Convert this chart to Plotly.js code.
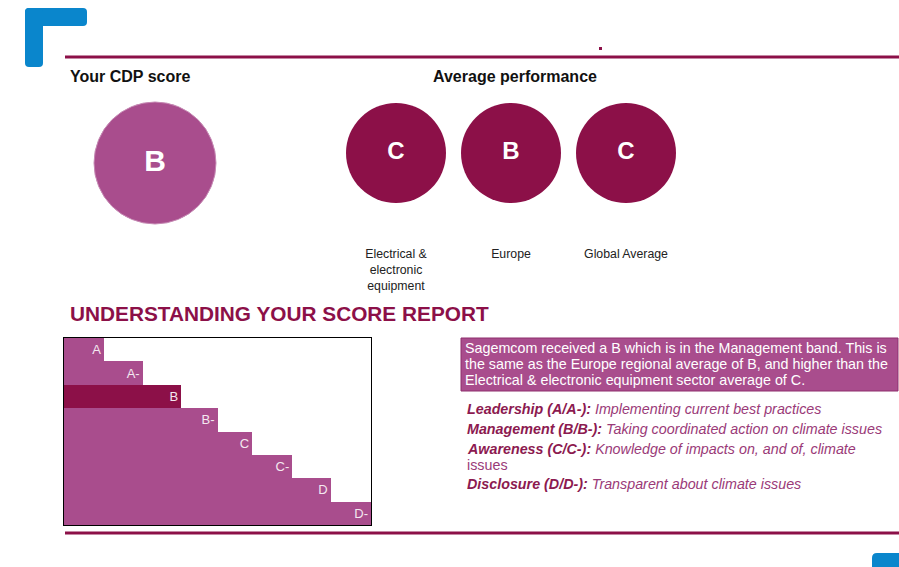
<!DOCTYPE html>
<html>
<head>
<meta charset="utf-8">
<script src="https://cdn.plot.ly/plotly-3.0.1.min.js"></script>
<style>html,body{margin:0;padding:0;background:#fff;}#chart{width:899px;height:567px;}</style>
</head>
<body>
<div id="chart"></div>
<script>
// ---- data ----
var bandLabels = ['A', 'A-', 'B', 'B-', 'C', 'C-', 'D', 'D-'];
var bandLevels = [1.05, 2.05, 3.05, 4.0, 4.9, 5.95, 6.95, 8.0];
var companyScore = 'B';
var avgCategories = ['Electrical &<br>electronic<br>equipment', 'Europe', 'Global Average'];
var avgScores = ['C', 'B', 'C'];
var summaryLines = [
  'Sagemcom received a B which is in the Management band. This is',
  'the same as the Europe regional average of B, and higher than the',
  'Electrical &amp; electronic equipment sector average of C.'
];
var bandTerms = ['Leadership (A/A-):', 'Management (B/B-):', 'Awareness (C/C-):', 'Disclosure (D/D-):'];
var bandDescs = ['Implementing current best practices', 'Taking coordinated action on climate issues', 'Knowledge of impacts on, and of, climate', 'Transparent about climate issues'];

// ---- helpers ----
var W = 899, H = 567;
function X(px) { return px / W; }
function Y(py) { return 1 - py / H; }
var LIGHT = '#A94D8D', DARK = '#8C1048', BLUE = '#0A86CC';
var FONT = 'Liberation Sans, Arial, sans-serif';

var barColors = bandLabels.map(function (b) { return b === companyScore ? DARK : LIGHT; });

var traces = [
  {
    type: 'bar', orientation: 'h',
    x: bandLevels, y: bandLabels,
    text: bandLabels, textposition: 'inside', insidetextanchor: 'end',
    textfont: { family: FONT, size: 13, color: '#F4E8F0' },
    marker: { color: barColors, line: { width: 0 } },
    xaxis: 'x', yaxis: 'y', hoverinfo: 'skip', cliponaxis: false
  },
  {
    type: 'scatter', mode: 'markers+text',
    x: [0], y: [0],
    text: ['<b>' + companyScore + '</b>'], textposition: 'middle center',
    textfont: { family: FONT, size: 30, color: '#ffffff' },
    marker: { size: 122, color: LIGHT, line: { width: 1, color: '#C68AB4' } },
    xaxis: 'x2', yaxis: 'y2', hoverinfo: 'skip', cliponaxis: false
  },
  {
    type: 'scatter', mode: 'markers+text',
    x: avgCategories, y: avgScores.map(function () { return 0; }),
    text: avgScores.map(function (s) { return '<b>' + s + '</b>'; }), textposition: 'middle center',
    textfont: { family: FONT, size: 24, color: '#ffffff' },
    marker: { size: 100, color: DARK, line: { width: 0 } },
    xaxis: 'x3', yaxis: 'y3', hoverinfo: 'skip', cliponaxis: false
  }
];

function roundRectPath(x0, y0, x1, y1, r) {
  return 'M' + X(x0 + r) + ',' + Y(y0) +
    ' L' + X(x1 - r) + ',' + Y(y0) + ' Q' + X(x1) + ',' + Y(y0) + ' ' + X(x1) + ',' + Y(y0 + r) +
    ' L' + X(x1) + ',' + Y(y1 - r) + ' Q' + X(x1) + ',' + Y(y1) + ' ' + X(x1 - r) + ',' + Y(y1) +
    ' L' + X(x0 + r) + ',' + Y(y1) + ' Q' + X(x0) + ',' + Y(y1) + ' ' + X(x0) + ',' + Y(y1 - r) +
    ' L' + X(x0) + ',' + Y(y0 + r) + ' Q' + X(x0) + ',' + Y(y0) + ' ' + X(x0 + r) + ',' + Y(y0) + ' Z';
}

var shapes = [
  // blue corner mark (L)
  { type: 'path', xref: 'paper', yref: 'paper', path: roundRectPath(25, 8, 87, 26, 4), fillcolor: BLUE, line: { width: 0 } },
  { type: 'path', xref: 'paper', yref: 'paper', path: roundRectPath(25, 8, 43, 67, 4), fillcolor: BLUE, line: { width: 0 } },
  // bottom right blue tab
  { type: 'path', xref: 'paper', yref: 'paper', path: roundRectPath(872, 553, 905, 575, 5), fillcolor: BLUE, line: { width: 0 } },
  // rules
  { type: 'line', xref: 'paper', yref: 'paper', x0: X(65), x1: X(899), y0: Y(57), y1: Y(57), line: { color: DARK, width: 3 } },
  { type: 'line', xref: 'paper', yref: 'paper', x0: X(65), x1: X(899), y0: Y(533), y1: Y(533), line: { color: DARK, width: 3 } },
  { type: 'rect', xref: 'paper', yref: 'paper', x0: X(599), x1: X(602), y0: Y(47), y1: Y(50), fillcolor: DARK, line: { width: 0 } },
  // summary box
  { type: 'rect', xref: 'paper', yref: 'paper', x0: X(461), x1: X(898), y0: Y(338), y1: Y(391), fillcolor: LIGHT, line: { color: '#8E2E6C', width: 1 } }
];

var annotations = [
  { xref: 'paper', yref: 'paper', x: X(68), y: Y(76), xanchor: 'left', yanchor: 'middle', showarrow: false,
    text: '<b>Your CDP score</b>', font: { family: FONT, size: 16, color: '#111' } },
  { xref: 'paper', yref: 'paper', x: X(431), y: Y(76), xanchor: 'left', yanchor: 'middle', showarrow: false,
    text: '<b>Average performance</b>', font: { family: FONT, size: 16, color: '#111' } },
  { xref: 'paper', yref: 'paper', x: X(68), y: Y(313), xanchor: 'left', yanchor: 'middle', showarrow: false,
    text: '<b>UNDERSTANDING YOUR SCORE REPORT</b>', font: { family: FONT, size: 20.8, color: DARK } }
];

var sumY = [348, 364, 380];
summaryLines.forEach(function (t, i) {
  annotations.push({ xref: 'paper', yref: 'paper', x: X(463), y: Y(sumY[i]), xanchor: 'left', yanchor: 'middle', showarrow: false,
    text: t, font: { family: FONT, size: 14.3, color: '#ffffff' } });
});

var defY = [409, 429, 449, 484];
bandTerms.forEach(function (t, i) {
  annotations.push({ xref: 'paper', yref: 'paper', x: X(465), y: Y(defY[i]), xanchor: 'left', yanchor: 'middle', showarrow: false, align: 'left',
    text: '<b><i>' + t + '</i></b> <i><span style="color:#9A3A78">' + bandDescs[i] + '</span></i>',
    font: { family: FONT, size: 14.3, color: '#8C1A50' } });
});
annotations.push({ xref: 'paper', yref: 'paper', x: X(465), y: Y(465), xanchor: 'left', yanchor: 'middle', showarrow: false,
  text: 'issues', font: { family: FONT, size: 14.3, color: '#9A3A78' } });

var layout = {
  width: W, height: H,
  margin: { l: 0, r: 0, t: 0, b: 0, pad: 0 },
  paper_bgcolor: '#ffffff', plot_bgcolor: '#ffffff',
  showlegend: false, bargap: 0,
  uniformtext: { mode: 'show', minsize: 13 },
  font: { family: FONT },
  xaxis: { domain: [X(64), X(371)], range: [0, 8], showgrid: false, zeroline: false, showticklabels: false, ticks: '',
    showline: true, mirror: true, linecolor: '#000', linewidth: 1, fixedrange: true, anchor: 'y' },
  yaxis: { domain: [Y(525), Y(338)], type: 'category', autorange: 'reversed', showgrid: false, zeroline: false,
    showticklabels: false, ticks: '', showline: true, mirror: true, linecolor: '#000', linewidth: 1, fixedrange: true, anchor: 'x' },
  xaxis2: { domain: [X(85), X(225)], range: [-1, 1], visible: false, anchor: 'y2' },
  yaxis2: { domain: [Y(233), Y(93)], range: [-1, 1], visible: false, anchor: 'x2' },
  xaxis3: { domain: [X(338.5), X(683.5)], type: 'category', range: [-0.5, 2.5], anchor: 'free', position: Y(245),
    showgrid: false, zeroline: false, showline: false, ticks: '', tickfont: { family: FONT, size: 12.3, color: '#222' } },
  yaxis3: { domain: [Y(213), Y(93)], range: [-1, 1], visible: false, anchor: 'x3' },
  shapes: shapes,
  annotations: annotations
};

Plotly.newPlot('chart', traces, layout, { staticPlot: true, displayModeBar: false });
</script>
</body>
</html>
